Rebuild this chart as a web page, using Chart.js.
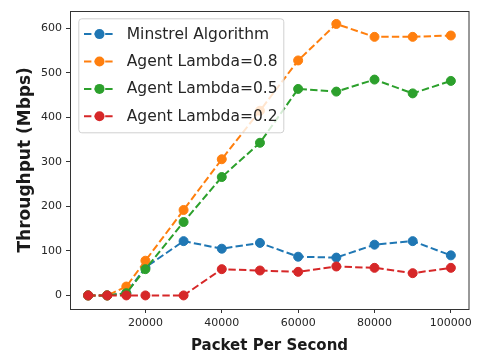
<!DOCTYPE html>
<html>
<head>
<meta charset="utf-8">
<script src="https://cdn.jsdelivr.net/npm/chart.js@4"></script>
<style>
  html, body { margin: 0; padding: 0; background: #ffffff; }
  #wrap { width: 477px; height: 358px; }
</style>
</head>
<body>
<div id="wrap"><canvas id="chart" width="477" height="358"></canvas></div>
<script>
// Offered load (packets per second) and measured throughput (Mbps)
const packetsPerSecond = [5000, 10000, 15000, 20000, 30000, 40000, 50000, 60000, 70000, 80000, 90000, 100000];
const minstrel = [0, 0, 5, 63, 122, 105, 118, 87, 85, 114, 122, 90];
const lambda08 = [0, 0, 20, 78, 192, 306, 415, 528, 610, 581, 581, 584];
const lambda05 = [0, 0, 5, 59, 165, 266, 343, 464, 458, 485, 454, 482];
const lambda02 = [0, 0, 0, 0, 0, 59, 56, 53, 65, 62, 50, 62];

const seriesNames = ['Minstrel Algorithm', 'Agent Lambda=0.8', 'Agent Lambda=0.5', 'Agent Lambda=0.2'];
const seriesValues = [minstrel, lambda08, lambda05, lambda02];
const seriesColors = ['#1f77b4', '#ff7f0e', '#2ca02c', '#d62728'];

const xTicks = [20000, 40000, 60000, 80000, 100000];
const yTicks = [0, 100, 200, 300, 400, 500, 600];

const FONT = '"DejaVu Sans", "Liberation Sans", sans-serif';
const TEXT = '#262626';
const SPINE = '#333333';
const DASH = [7.4, 3.2];

const datasets = seriesValues.map((vals, i) => ({
  label: seriesNames[i],
  data: packetsPerSecond.map((x, k) => ({ x: x, y: vals[k] })),
  borderColor: seriesColors[i],
  backgroundColor: seriesColors[i],
  pointBackgroundColor: seriesColors[i],
  pointBorderColor: seriesColors[i],
  borderWidth: 2,
  borderDash: DASH,
  pointRadius: 4.5,
  pointBorderWidth: 1,
  pointHoverRadius: 4.5,
  tension: 0,
  fill: false,
  order: seriesValues.length - 1 - i   // later series drawn on top
}));

// Box around the axes, drawn above the lines
const framePlugin = {
  id: 'frame',
  afterDatasetsDraw(chart) {
    const { ctx, chartArea: a } = chart;
    ctx.save();
    ctx.strokeStyle = SPINE;
    ctx.lineWidth = 1;
    ctx.strokeRect(Math.round(a.left) + 0.5, Math.round(a.top) + 0.5,
                   Math.round(a.right - a.left) - 0.5, Math.round(a.bottom - a.top));
    ctx.restore();
  }
};

// Legend in the upper-left corner: dashed line sample with a dot marker
const legendPlugin = {
  id: 'boxLegend',
  afterDatasetsDraw(chart) {
    const { ctx, chartArea: a } = chart;
    const left = a.left + 8.3, top = a.top + 7.7, w = 205, h = 114;
    ctx.save();
    ctx.beginPath();
    if (ctx.roundRect) ctx.roundRect(left + 0.5, top + 0.5, w, h, 3);
    else ctx.rect(left + 0.5, top + 0.5, w, h);
    ctx.fillStyle = 'rgba(255,255,255,0.8)';
    ctx.fill();
    ctx.strokeStyle = '#d0d0d0';
    ctx.lineWidth = 1;
    ctx.stroke();

    ctx.font = '15.5px ' + FONT;
    ctx.textBaseline = 'middle';
    ctx.textAlign = 'left';
    chart.data.datasets.forEach((ds, i) => {
      const cy = top + 15.8 + i * 27.4;
      const x0 = left + 5.7, x1 = left + 36.7;
      ctx.beginPath();
      ctx.setLineDash(DASH);
      ctx.strokeStyle = ds.borderColor;
      ctx.lineWidth = 2;
      ctx.moveTo(x0, cy);
      ctx.lineTo(x1, cy);
      ctx.stroke();
      ctx.setLineDash([]);
      ctx.beginPath();
      ctx.arc((x0 + x1) / 2, cy, 5, 0, Math.PI * 2);
      ctx.fillStyle = ds.borderColor;
      ctx.fill();
      ctx.fillStyle = TEXT;
      ctx.fillText(ds.label, left + 48.4, cy + 0.5);
    });
    ctx.restore();
  }
};

new Chart(document.getElementById('chart'), {
  type: 'line',
  data: { datasets: datasets },
  plugins: [framePlugin, legendPlugin],
  options: {
    responsive: false,
    animation: false,
    devicePixelRatio: 1,
    layout: { padding: { left: 0, right: 8, top: 8, bottom: 0 } },
    plugins: { legend: { display: false }, tooltip: { enabled: false } },
    scales: {
      x: {
        type: 'linear',
        min: 250,
        max: 104750,
        afterBuildTicks: s => { s.ticks = xTicks.map(v => ({ value: v })); },
        afterFit: s => { s.height = 49; },
        ticks: {
          font: { family: FONT, size: 11 },
          color: TEXT,
          padding: 4,
          maxRotation: 0,
          autoSkip: false,
          callback: v => String(v)
        },
        grid: { drawOnChartArea: false, tickLength: 4, color: SPINE, tickWidth: 1 },
        border: { display: false },
        title: {
          display: true,
          text: 'Packet Per Second',
          color: '#1a1a1a',
          font: { family: FONT, size: 15, weight: 'bold' },
          padding: { top: 0, bottom: 3 }
        }
      },
      y: {
        type: 'linear',
        min: -30.5,
        max: 640,
        afterBuildTicks: s => { s.ticks = yTicks.map(v => ({ value: v })); },
        afterFit: s => { s.width = 70; },
        ticks: {
          font: { family: FONT, size: 11 },
          color: TEXT,
          padding: 4,
          autoSkip: false,
          callback: v => String(v)
        },
        grid: { drawOnChartArea: false, tickLength: 4, color: SPINE, tickWidth: 1 },
        border: { display: false },
        title: {
          display: true,
          text: 'Throughput (Mbps)',
          color: '#1a1a1a',
          font: { family: FONT, size: 17, weight: 'bold' },
          padding: { top: 15, bottom: 0 }
        }
      }
    }
  }
});
</script>
</body>
</html>
